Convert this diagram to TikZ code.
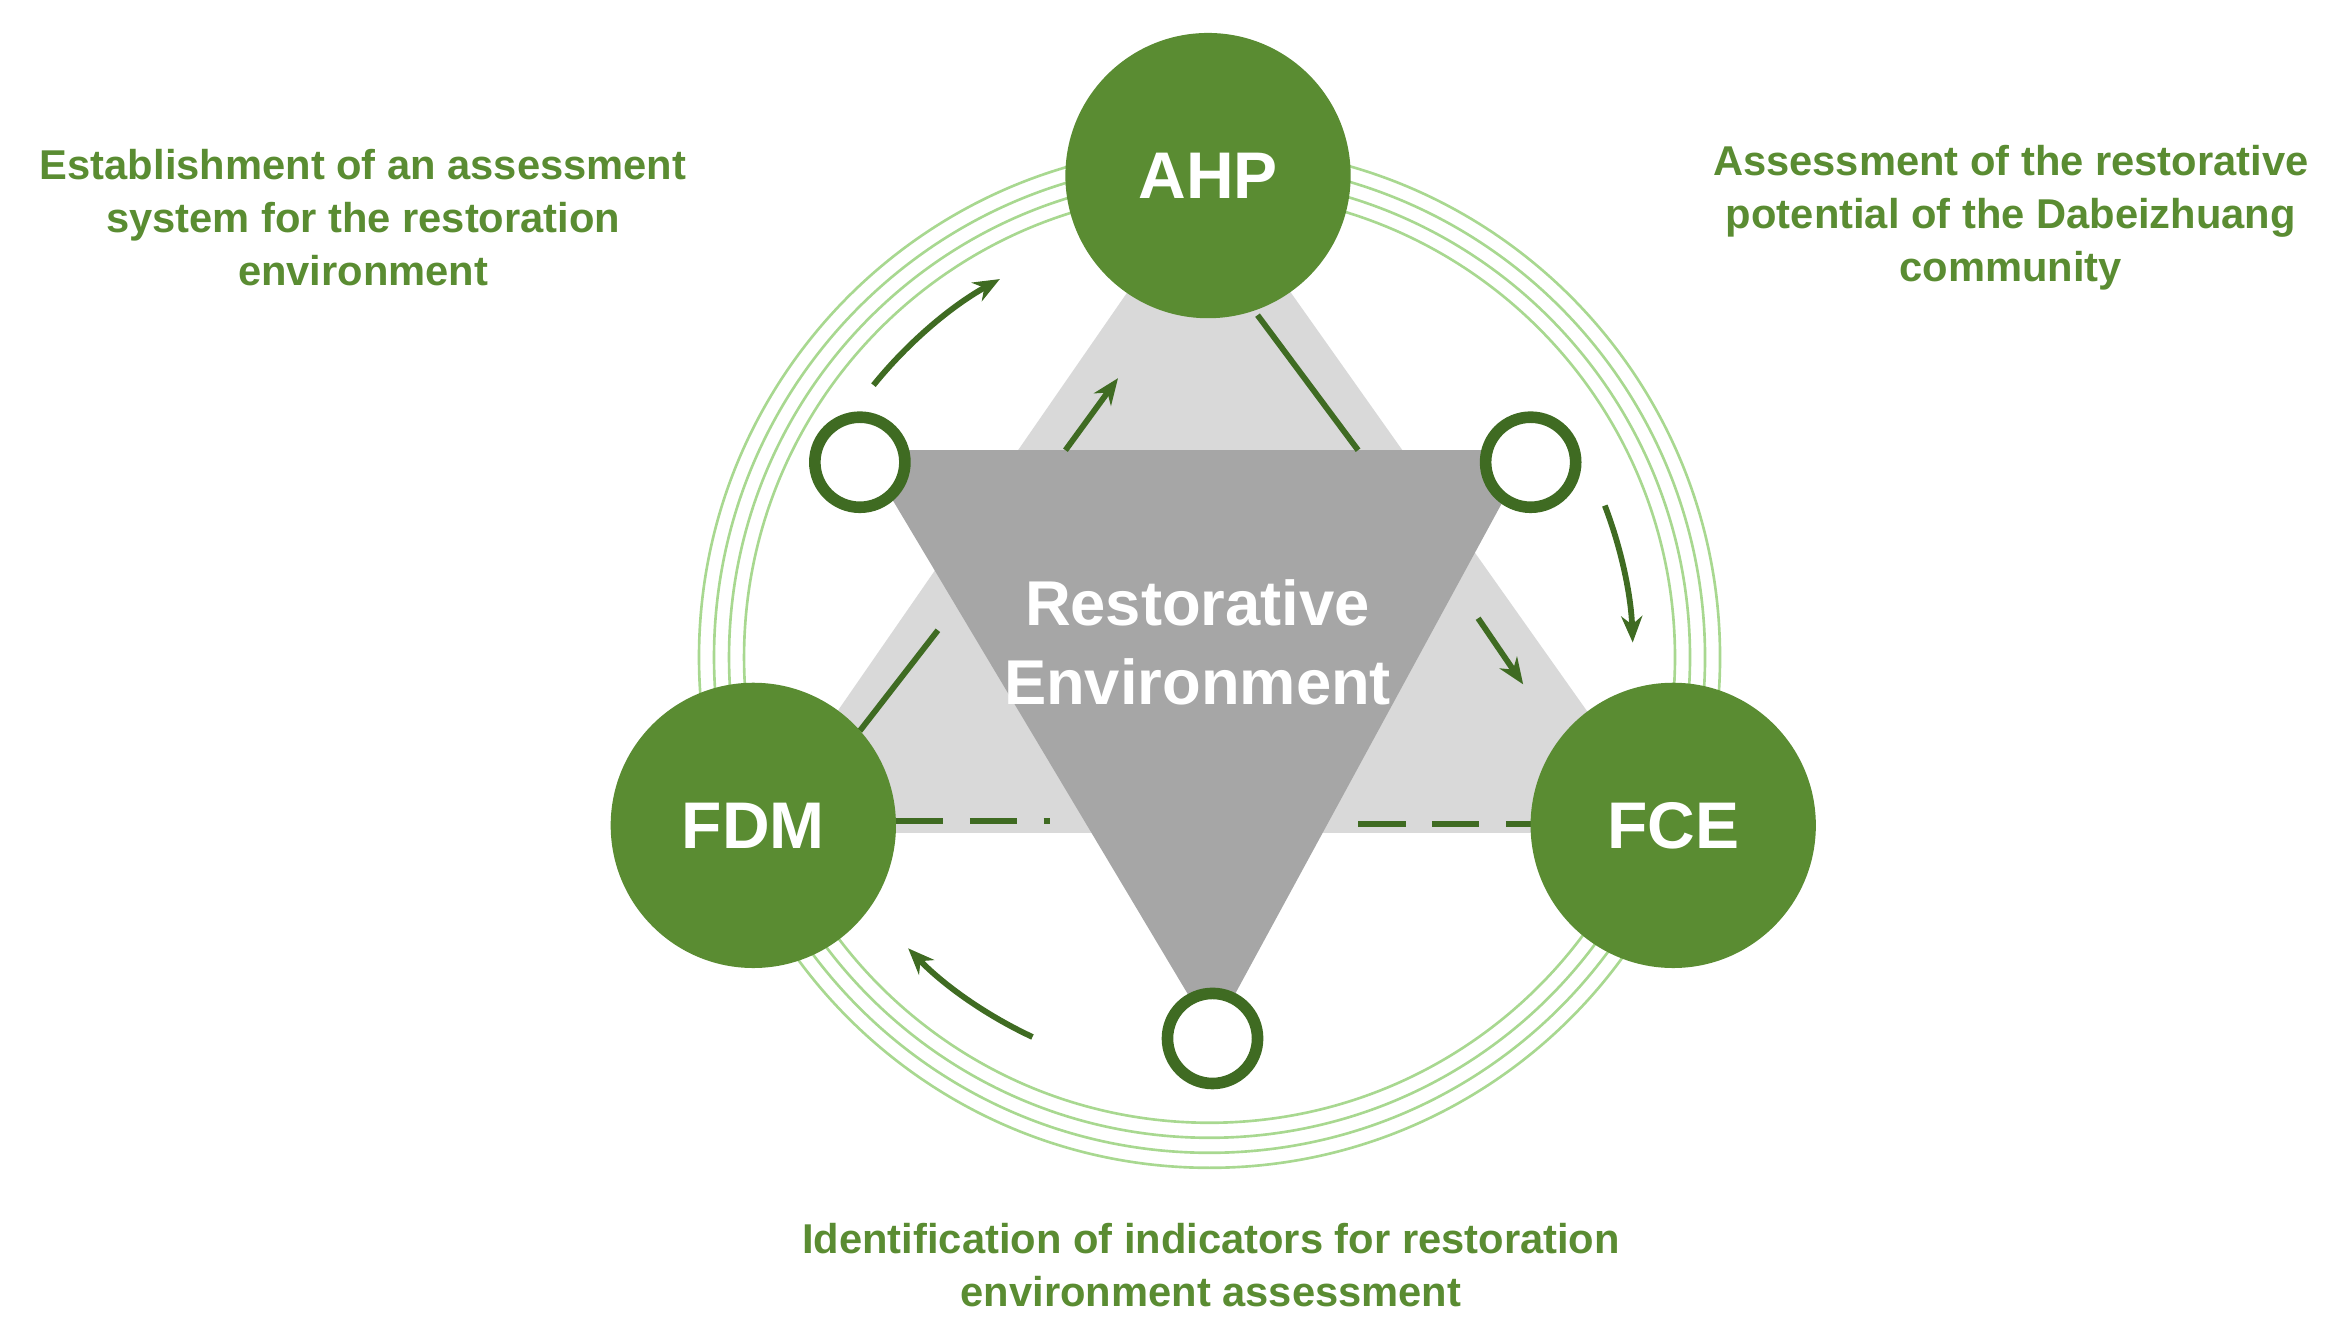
\documentclass[tikz,border=0pt]{standalone}
\usepackage{fontspec}
\setmainfont{Liberation Sans}
\usetikzlibrary{arrows.meta,calc}
\definecolor{g}{HTML}{5A8C32}
\definecolor{dg}{HTML}{3F6B22}
\definecolor{lg}{HTML}{A8D890}
\definecolor{tri1}{HTML}{D9D9D9}
\definecolor{tri2}{HTML}{A6A6A6}
\begin{document}
\begin{tikzpicture}[x=0.01cm,y=0.01cm,
  big/.style={circle,fill=g,minimum size=1.9cm,inner sep=0,text=white,font=\fontsize{12.5}{14}\selectfont\bfseries},
  small/.style={circle,fill=white,draw=dg,line width=2.2pt,minimum size=0.6cm,inner sep=0},
  lab/.style={text=g,align=center,font=\fontsize{7.9}{10}\selectfont\bfseries},
  ln/.style={dg,line width=1.1pt},
  arr/.style={dg,line width=1.1pt,-{Stealth[length=5pt,width=4pt]}}]
\useasboundingbox (0,0) rectangle (1560,-890);
\coordinate (c) at (806,-438);
\foreach \r in {3.1,3.2,3.3,3.4} \draw[lg,line width=0.5pt] (c) circle (\r cm);
\fill[tri1] (805,-117) -- (502,-555) -- (1115,-555) -- cycle;
\fill[tri2] (575,-300) -- (1020,-300) -- (808,-690) -- cycle;
% connectors
\coordinate (a1) at (838,-210); \coordinate (a2) at (905,-300);
\coordinate (a3) at (985,-412); \coordinate (a4) at (1015,-456);
\coordinate (b1) at (710,-300); \coordinate (b2) at (745,-252);
\coordinate (b3) at (625,-420); \coordinate (b4) at (573,-487);
\coordinate (d1) at (597,-547); \coordinate (d2) at (700,-547);
\coordinate (d3) at (905,-549); \coordinate (d4) at (1020,-549);
\draw[ln] (a1) -- (a2);
\draw[arr] (a3) -- (a4);
\draw[arr] (b1) -- (b2);
\draw[ln] (b3) -- (b4);
\draw[ln,dash pattern=on 9pt off 5pt] (d1) -- (d2);
\draw[ln,dash pattern=on 9pt off 5pt] (d3) -- (d4);
% arcs
\draw[arr] ($(c)+(141:2.88cm)$) arc (141:119:2.88cm);
\draw[arr] ($(c)+(21:2.82cm)$) arc (21:2:2.82cm);
\draw[arr] ($(c)+(245:2.79cm)$) arc (245:224:2.79cm);
\node[big] (ahp) at (805,-117) {AHP};
\node[big] (fdm) at (502,-550) {FDM};
\node[big] (fce) at (1115,-550) {FCE};
\node[small] (s1) at (573,-308) {};
\node[small] (s2) at (1020,-308) {};
\node[small] (s3) at (808,-692) {};
\node[text=white,align=center,font=\fontsize{12}{15}\selectfont\bfseries] (re) at (798,-428) {Restorative\\Environment};
\node[lab] (l1) at (242,-145) {Establishment of an assessment\\system for the restoration\\environment};
\node[lab] (l2) at (1340,-145) {Assessment of the restorative\\potential of the Dabeizhuang\\community};
\node[lab] (l3) at (807,-843) {Identification of indicators for restoration\\environment assessment};
\end{tikzpicture}
\end{document}
